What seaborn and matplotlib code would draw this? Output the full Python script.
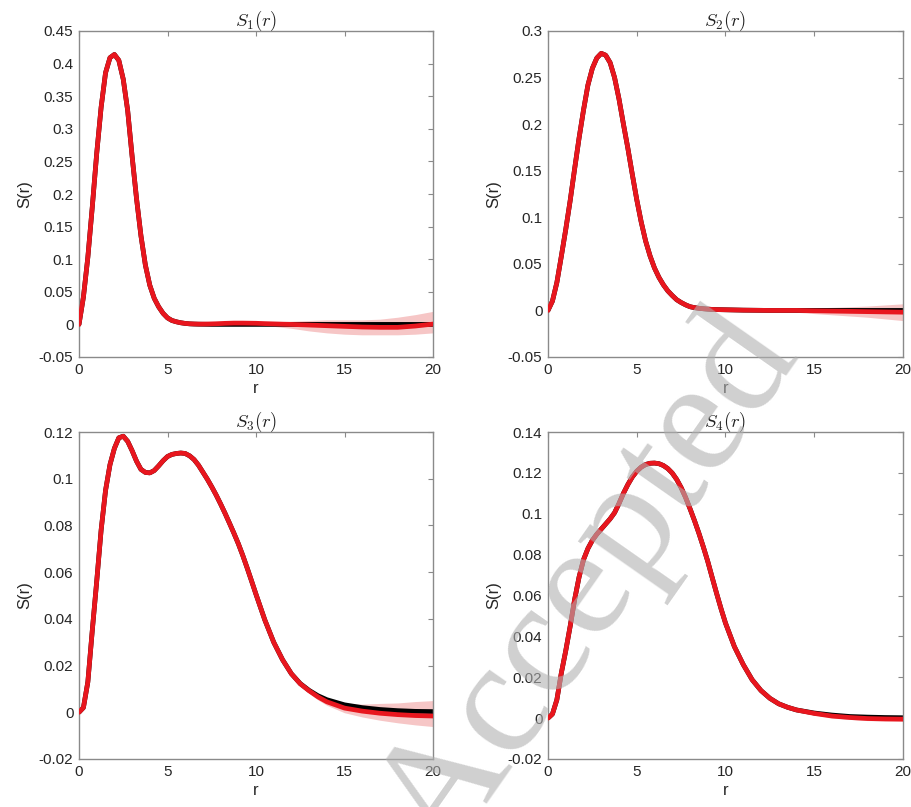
import numpy as np
import pandas as pd
import matplotlib
matplotlib.use("Agg")
import matplotlib.pyplot as plt
import seaborn as sns

# ---------------- data ----------------
# sample positions: 0..10 every 0.25, 10.5..14 every 0.5, 15..20 every 1
r = np.concatenate([np.arange(0, 10.01, 0.25), np.arange(10.5, 14.01, 0.5), np.arange(15, 20.01, 1.0)])

s1_est = [0, 0.042, 0.103, 0.18, 0.262, 0.333, 0.386, 0.409, 0.414, 0.405, 0.376, 0.328, 0.258,
          0.193, 0.136, 0.091, 0.06, 0.04, 0.027, 0.017, 0.01, 0.006, 0.004, 0.0025, 0.0015,
          0.001, 0.0007, 0.0005, 0.0005, 0.0006, 0.0008, 0.001, 0.0013, 0.0016, 0.0018, 0.002,
          0.002, 0.002, 0.0019, 0.0018, 0.0017,
          0.0012, 0.0008, 0.0004, 0.0, -0.0005, -0.001, -0.0015, -0.002,
          -0.003, -0.004, -0.0045, -0.0045, -0.0025, 0.0005]
s1_true = s1_est[:25] + [0.0008, 0.0005, 0.0003, 0.0002, 0.0001] + [0] * 25
s1_below = [0.0008] * 40 + [0.0027, 0.0033, 0.0038, 0.005, 0.006, 0.0075, 0.009, 0.01, 0.011,
                            0.012, 0.012, 0.0115, 0.0115, 0.0125, 0.0135]
s1_above = [0.0008] * 40 + [0.0013, 0.002, 0.0032, 0.004, 0.005, 0.006, 0.007, 0.008, 0.009,
                            0.010, 0.011, 0.0125, 0.0155, 0.0175, 0.0195]

s2_est = [0, 0.01, 0.03, 0.058, 0.087, 0.118, 0.152, 0.185, 0.215, 0.242, 0.26, 0.271, 0.276,
          0.274, 0.266, 0.25, 0.227, 0.2, 0.174, 0.146, 0.119, 0.095, 0.0745, 0.0585, 0.0455,
          0.0355, 0.0275, 0.021, 0.016, 0.0115, 0.0085, 0.006, 0.004, 0.003, 0.0023, 0.0018,
          0.0014, 0.0011, 0.0009, 0.0008, 0.0007,
          0.0005, 0.0003, 0.0002, 0.0001, 0, 0, 0, 0,
          -0.0004, -0.0007, -0.001, -0.0013, -0.0016, -0.0019]
s2_true = s2_est[:45] + [0] * 10
s2_below = [0.0005] * 44 + [0.0008, 0.001, 0.0013, 0.0016, 0.002, 0.003, 0.004, 0.005, 0.006, 0.0075, 0.009]
s2_above = [0.0005] * 44 + [0.0008, 0.001, 0.0013, 0.0016, 0.002, 0.003, 0.004, 0.005, 0.006, 0.0075, 0.009]

s3_est = [0, 0.002, 0.013, 0.035, 0.056, 0.078, 0.095, 0.106, 0.113, 0.1175, 0.1182, 0.116,
          0.112, 0.1075, 0.104, 0.1027, 0.1025, 0.1035, 0.1055, 0.1077, 0.1095, 0.1104, 0.1108,
          0.111, 0.1108,
          0.1098, 0.1082, 0.1058, 0.1028, 0.0998, 0.0965, 0.093, 0.0892, 0.0852, 0.081, 0.0767,
          0.0722, 0.0672, 0.0618, 0.0562, 0.0505,
          0.0395, 0.03, 0.0225, 0.0165, 0.0122, 0.0092, 0.0066, 0.0045,
          0.0018, 0.0005, -0.0004, -0.001, -0.0014, -0.0016]
s3_true = s3_est[:45] + [0.0123, 0.0094, 0.0071, 0.0054, 0.0032, 0.002, 0.0012, 0.0007, 0.0004, 0.0003]
s3_below = [0.0004] * 44 + [0.0006, 0.0008, 0.001, 0.0013, 0.0015, 0.002, 0.0025, 0.003, 0.0035, 0.004, 0.0045]
s3_above = [0.0004] * 44 + [0.0005, 0.0006, 0.0008, 0.001, 0.0012, 0.002, 0.003, 0.0042, 0.005, 0.006, 0.0066]

s4_est = [0, 0.002, 0.009, 0.022, 0.033, 0.045, 0.058, 0.069, 0.0775, 0.083, 0.087, 0.09,
          0.0925, 0.095, 0.0975, 0.1005, 0.105, 0.11, 0.1143, 0.118, 0.1208, 0.1228, 0.1241,
          0.1247, 0.1248,
          0.1245, 0.1236, 0.1221, 0.1199, 0.1168, 0.1128, 0.108, 0.1025, 0.0967, 0.0905, 0.0838,
          0.0767, 0.0688, 0.061, 0.0535, 0.0465,
          0.035, 0.0262, 0.0188, 0.0135, 0.0097, 0.007, 0.0053, 0.004,
          0.0023, 0.001, 0.0003, -0.0002, -0.0004, -0.0005]
s4_true = s4_est[:49] + [0.0025, 0.0015, 0.0008, 0.0005, 0.0003, 0.0002]
s4_below = [0.0003] * 44 + [0.0004, 0.0004, 0.0005, 0.0005, 0.0006, 0.0007, 0.0008, 0.0009, 0.001, 0.001, 0.001]
s4_above = [0.0003] * 44 + [0.0004, 0.0004, 0.0005, 0.0005, 0.0006, 0.0007, 0.0008, 0.0009, 0.001, 0.001, 0.001]

titles = [r"$S_1(r)$", r"$S_2(r)$", r"$S_3(r)$", r"$S_4(r)$"]
x_ticks = [0, 5, 10, 15, 20]
x_tick_labels = ["0", "5", "10", "15", "20"]
y_ticks_1 = [-0.05, 0, 0.05, 0.1, 0.15, 0.2, 0.25, 0.3, 0.35, 0.4, 0.45]
y_labels_1 = ["-0.05", "0", "0.05", "0.1", "0.15", "0.2", "0.25", "0.3", "0.35", "0.4", "0.45"]
y_ticks_2 = [-0.05, 0, 0.05, 0.1, 0.15, 0.2, 0.25, 0.3]
y_labels_2 = ["-0.05", "0", "0.05", "0.1", "0.15", "0.2", "0.25", "0.3"]
y_ticks_3 = [-0.02, 0, 0.02, 0.04, 0.06, 0.08, 0.1, 0.12]
y_labels_3 = ["-0.02", "0", "0.02", "0.04", "0.06", "0.08", "0.1", "0.12"]
y_ticks_4 = [-0.02, 0, 0.02, 0.04, 0.06, 0.08, 0.1, 0.12, 0.14]
y_labels_4 = ["-0.02", "0", "0.02", "0.04", "0.06", "0.08", "0.1", "0.12", "0.14"]

watermark = "Accepted"

# ---------------- style ----------------
sns.set_theme(style="white")
plt.rcParams["font.family"] = ["Liberation Sans", "DejaVu Sans"]
plt.rcParams["mathtext.fontset"] = "cm"

AX_COLOR = "#8a8a8a"
RED = "#e8161e"
BAND = "#f6c6c6"

fig = plt.figure(figsize=(9.12, 8.07), dpi=100)
W, H = 912, 807
boxes = [(79, 31, 433, 357), (548, 31, 903, 357), (79, 432, 433, 759), (548, 432, 903, 759)]

panels = [
    (s1_true, s1_est, s1_below, s1_above, y_ticks_1, y_labels_1),
    (s2_true, s2_est, s2_below, s2_above, y_ticks_2, y_labels_2),
    (s3_true, s3_est, s3_below, s3_above, y_ticks_3, y_labels_3),
    (s4_true, s4_est, s4_below, s4_above, y_ticks_4, y_labels_4),
]

for i, ((true, est, below, above, yt, yl), (x0, y0, x1, y1)) in enumerate(zip(panels, boxes)):
    ax = fig.add_axes([x0 / W, 1 - y1 / H, (x1 - x0) / W, (y1 - y0) / H])
    df = pd.DataFrame({"r": r, "true": true, "est": est})
    est_a = np.array(est)
    ax.fill_between(r, est_a - np.array(below), est_a + np.array(above),
                    color=BAND, linewidth=0, zorder=1)
    sns.lineplot(data=df, x="r", y="true", ax=ax, color="black", linewidth=3.4, zorder=2)
    sns.lineplot(data=df, x="r", y="est", ax=ax, color=RED, linewidth=3.4, zorder=3)
    for ln in ax.lines:
        ln.set_solid_joinstyle("round")
        ln.set_solid_capstyle("round")
    ax.set_xlim(0, 20)
    ax.set_ylim(yt[0], yt[-1])
    ax.set_xticks(x_ticks)
    ax.set_xticklabels(x_tick_labels)
    ax.set_yticks(yt)
    ax.set_yticklabels(yl)
    ax.tick_params(direction="in", length=3.5, width=0.8, color=AX_COLOR, top=True,
                   right=True, labelsize=11, labelcolor="#262626", pad=4)
    for s in ax.spines.values():
        s.set_color(AX_COLOR)
        s.set_linewidth(1.0)
        s.set_visible(True)
    ax.set_xlabel("r", fontsize=12, color="#262626", labelpad=3)
    ax.set_ylabel("S(r)", fontsize=12, color="#262626", labelpad=5)
    ax.set_title(titles[i], fontsize=13.5, color="#222222", pad=4)

# journal watermark drawn over the panels
fig.text(590 / W, 1 - 585 / H, watermark, rotation=55, ha="center", va="center",
         fontsize=118, family=["Liberation Serif", "DejaVu Serif"], color="#b0b0b0",
         alpha=0.6, zorder=10)

fig.savefig("out.png", dpi=100)
